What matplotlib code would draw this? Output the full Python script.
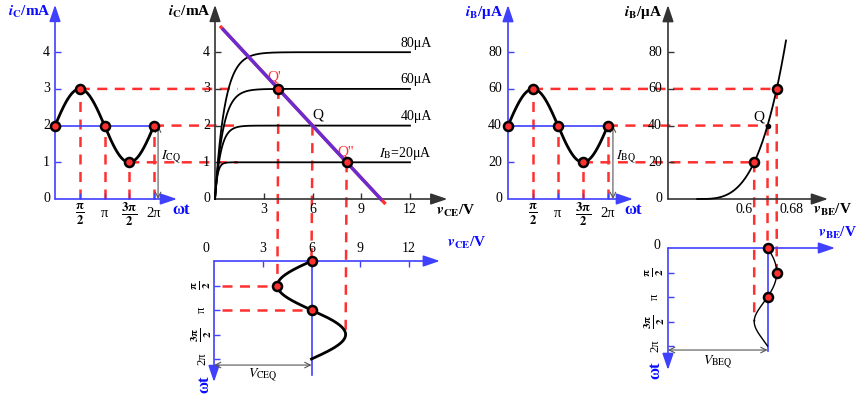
import numpy as np
import matplotlib
matplotlib.use('Agg')
import matplotlib.pyplot as plt
from matplotlib.patches import ConnectionPatch
from matplotlib import transforms

plt.rcParams['font.family'] = 'Liberation Serif'
plt.rcParams['mathtext.fontset'] = 'stix'

# ---- data ----
wt_keys = np.array([0, np.pi / 2, np.pi, 3 * np.pi / 2, 2 * np.pi])
wt_labels = [r'$\frac{\mathbf{\pi}}{\mathbf{2}}$', 'π', r'$\frac{\mathbf{3\pi}}{\mathbf{2}}$', '2π']
ic_ticks = [0, 1, 2, 3, 4]          # mA
ib_ticks = [0, 20, 40, 60, 80]      # uA
vce_ticks = [0, 3, 6, 9, 12]        # V
vbe_ticks = [0.6, 0.68]             # V

ICQ, ic_amp = 2.0, 1.0              # mA
IBQ, ib_amp = 40, 20                # uA
ib_levels = [20, 40, 60, 80]        # uA
ib_level_labels = [r'$I_{\rm B}$=20μA', '40μA', '60μA', '80μA']
knee = [0.15, 0.35, 0.5, 0.6]       # V, width of the saturation knee
beta = 0.05                         # mA per uA
VCC, RC = 10.2, 2.1                 # load line vCE = VCC - RC*iC
VBE_on, VBE_20, n_exp = 0.522, 0.617, 3.3   # input curve
VBE_top = 0.670
E_V0 = 0.4733                       # where the vBE axis starts

blue = '#4040ff'
lblue = '#0a0aff'
red = '#ff3030'
dark = '#333333'
purple = '#6a2bd0'

W, H = 865, 400
fig = plt.figure(figsize=(W / 100, H / 100), dpi=100)


def panel(ox, oy, sx, sy):
    # full-figure axes, data origin at pixel (ox, oy) from top-left
    ax = fig.add_axes([0, 0, 1, 1])
    ax.set_xlim(-ox / sx, (W - ox) / sx)
    ax.set_ylim((oy - H) / sy, oy / sy)
    ax.axis('off')
    ax.patch.set_visible(False)
    return ax


def axis_arrow(ax, p0, p1, color):
    ax.annotate('', xy=p1, xytext=p0,
                arrowprops=dict(arrowstyle='-|>,head_length=0.5,head_width=0.17',
                                mutation_scale=20, color=color, lw=1.2,
                                shrinkA=0, shrinkB=0))


def dim_arrow(ax, p0, p1):
    ax.annotate('', xy=p1, xytext=p0,
                arrowprops=dict(arrowstyle='<->,head_length=0.5,head_width=0.25',
                                mutation_scale=8, color='#555555', lw=0.8,
                                shrinkA=0, shrinkB=0))


def label(ax, xy, s, dx=0, dy=0, **kw):
    kw.setdefault('fontsize', 10)
    kw.setdefault('ha', 'center')
    kw.setdefault('va', 'center')
    ax.annotate(s, xy=xy, xytext=(dx, dy), textcoords='offset pixels', **kw)


def dots(ax, x, y):
    ax.plot(x, y, 'o', ms=6.5, mfc=red, mec='black', mew=1.8, ls='none', zorder=6)


def dashed(ax, x, y):
    ax.plot(x, y, color=red, lw=1.8, dashes=(4, 3), zorder=1)


links = []


def link(axa, pa, axb, pb):
    links.append((axa, pa, axb, pb))


t = np.linspace(0, 2 * np.pi, 300)
ic_wave = ICQ + ic_amp * np.sin(t)
ic_keys = ICQ + ic_amp * np.sin(wt_keys)
ib_wave = IBQ + ib_amp * np.sin(t)
ib_keys = IBQ + ib_amp * np.sin(wt_keys)
vce_wave = VCC - RC * ic_wave
vce_keys = VCC - RC * ic_keys
VCEQ = VCC - RC * ICQ


def vbe_of(ib):
    return VBE_on + (VBE_20 - VBE_on) * (np.asarray(ib) / 20.0) ** (1 / n_exp)


vbe_wave = vbe_of(ib_wave)
vbe_keys = vbe_of(ib_keys)
VBEQ = vbe_of(IBQ)

ylab_ic = r'$\mathbfit{i}_{\mathbf{C}}$/mA'
ylab_ib = r'$\mathbfit{i}_{\mathbf{B}}$/μA'
xlab_vce = r'$\mathbfit{v}_{\mathbf{CE}}$/V'
xlab_vbe = r'$\mathbfit{v}_{\mathbf{BE}}$/V'


def wt_fs(s):
    return 13 if 'frac' in s else 10.5


# ---- A: iC vs wt ----
axA = panel(55, 199, 15.76, 36.7)
axis_arrow(axA, (0, 0), (7.74, 0), blue)
axis_arrow(axA, (0, 0), (0, 5.29), blue)
axA.plot([0, 2 * np.pi], [ICQ, ICQ], color=blue, lw=1.2, zorder=2)
for k, v in zip(wt_keys[1:], ic_keys[1:]):
    dashed(axA, [k, k], [0, v])
axA.plot(t, ic_wave, color='black', lw=2, zorder=4)
dots(axA, wt_keys, ic_keys)
axA.plot(wt_keys[1:], np.zeros(4), ls='none', marker=2, ms=4, mew=1, color=blue)
axA.plot(np.zeros(4), ic_ticks[1:], ls='none', marker=1, ms=4, mew=1, color=blue)
for v in ic_ticks:
    label(axA, (0, v), str(v), dx=-5, ha='right')
for k, s in zip(wt_keys[1:], wt_labels):
    label(axA, (k, 0), s, dy=-15, fontsize=wt_fs(s))
label(axA, (7.74, 0), 'ωt', dx=4, dy=-11, color=lblue, fontweight='bold', fontsize=12)
label(axA, (0, 5.29), ylab_ic, dx=-4, dy=-7, ha='right', color=lblue,
      fontweight='bold', fontsize=11)
dim_arrow(axA, (6.54, ICQ), (6.54, 0))
label(axA, (6.54, 1.15), r'$I_{\rm CQ}$', dx=3, ha='left')

# ---- B: output characteristics ----
axB = panel(215, 199, 16.25, 36.7)
axis_arrow(axB, (0, 0), (14.3, 0), dark)
axis_arrow(axB, (0, 0), (0, 5.29), dark)
vv = np.linspace(0, 12, 500)
for lev, kn, s in zip(ib_levels, knee, ib_level_labels):
    axB.plot(vv, beta * lev * (1 - np.exp(-vv / kn)), color='black', lw=1.3, zorder=3)
    label(axB, (12, beta * lev), s, dx=22, dy=9, ha='right')
vl = np.array([0.3, 10.35])
shift = transforms.offset_copy(axB.transData, fig=fig, x=1.2, y=-1.2, units='dots')
axB.plot(vl, (VCC - vl) / RC, color=red, lw=2.4, transform=shift, zorder=4)
vl2 = np.array([0.5, VCC])
axB.plot(vl2, (VCC - vl2) / RC, color=purple, lw=2.4, zorder=5)
dots(axB, vce_keys[[1, 3]], ic_keys[[1, 3]])
label(axB, (vce_keys[1], ic_keys[1]), "Q'", dx=-4, dy=12, color=red, fontsize=11)
label(axB, (VCEQ, ICQ), 'Q', dx=5, dy=11, fontsize=11)
label(axB, (vce_keys[3], ic_keys[3]), "Q''", dx=-1, dy=10, color=red, fontsize=11)
axB.plot(vce_ticks[1:], np.zeros(4), ls='none', marker=2, ms=4, mew=1, color=dark)
axB.plot(np.zeros(4), ic_ticks[1:], ls='none', marker=1, ms=4, mew=1, color=dark)
for v in ic_ticks:
    label(axB, (0, v), str(v), dx=-5, ha='right')
for v in vce_ticks[1:]:
    label(axB, (v, 0), str(v), dy=-11)
label(axB, (0, 5.29), ylab_ic, dx=-4, dy=-7, ha='right', color='black',
      fontweight='bold', fontsize=11)
label(axB, (14.3, 0), xlab_vce, dx=-11, dy=-12, ha='left', fontweight='bold', fontsize=11)

# ---- C: vCE vs wt ----
axC = panel(214, 261, 16.25, -15.6)
axis_arrow(axC, (0, 0), (13.9, 0), blue)
axis_arrow(axC, (0, 0), (0, 7.76), blue)
axC.plot([VCEQ, VCEQ], [0, 7.3], color=blue, lw=1.2, zorder=2)
dashed(axC, [0.5, vce_keys[1]], [wt_keys[1]] * 2)
dashed(axC, [0.5, vce_keys[2]], [wt_keys[2]] * 2)
axC.plot(vce_wave, t, color='black', lw=2, zorder=4)
dots(axC, vce_keys[:3], wt_keys[:3])
axC.plot(vce_ticks[1:], np.zeros(4), ls='none', marker=3, ms=4, mew=1, color=blue)
axC.plot(np.zeros(4), wt_keys[1:], ls='none', marker=1, ms=4, mew=1, color=blue)
for v in vce_ticks:
    label(axC, (v, 0), str(v), dx=-8 if v == 0 else 0, dy=12)
for k, s in zip(wt_keys[1:], wt_labels):
    label(axC, (0, k), s, dx=-12, rotation=90, fontsize=wt_fs(s) - 1.5)
label(axC, (0, 7.76), 'ωt', dx=-10, dy=-2, rotation=90, color=lblue,
      fontweight='bold', fontsize=12)
label(axC, (13.9, 0), xlab_vce, dx=7, dy=18, ha='left', color=lblue,
      fontweight='bold', fontsize=11)
dim_arrow(axC, (0, 6.67), (VCEQ, 6.67))
label(axC, (VCEQ / 2, 7.3), r'$V_{\rm CEQ}$')

# ---- D: iB vs wt ----
axD = panel(508, 199, 15.9, 1.835)
axis_arrow(axD, (0, 0), (7.86, 0), blue)
axis_arrow(axD, (0, 0), (0, 105.7), blue)
axD.plot([0, 2 * np.pi], [IBQ, IBQ], color=blue, lw=1.2, zorder=2)
for k, v in zip(wt_keys[1:], ib_keys[1:]):
    dashed(axD, [k, k], [0, v])
axD.plot(t, ib_wave, color='black', lw=2, zorder=4)
dots(axD, wt_keys, ib_keys)
axD.plot(wt_keys[1:], np.zeros(4), ls='none', marker=2, ms=4, mew=1, color=blue)
axD.plot(np.zeros(4), ib_ticks[1:], ls='none', marker=1, ms=4, mew=1, color=blue)
for v in ib_ticks:
    label(axD, (0, v), str(v), dx=-6, ha='right')
for k, s in zip(wt_keys[1:], wt_labels):
    label(axD, (k, 0), s, dy=-15, fontsize=wt_fs(s))
label(axD, (7.86, 0), 'ωt', dx=0, dy=-11, color=lblue, fontweight='bold', fontsize=12)
label(axD, (0, 105.7), ylab_ib, dx=-5, dy=-7, ha='right', color=lblue,
      fontweight='bold', fontsize=11)
dim_arrow(axD, (6.6, IBQ), (6.6, 0))
label(axD, (6.6, 22.9), r'$I_{\rm BQ}$', dx=3, ha='left')

# ---- E: input characteristic ----
axE = panel(384, 199, 600, 1.835)
axis_arrow(axE, (E_V0, 0), (0.74, 0), dark)
axis_arrow(axE, (E_V0, 0), (E_V0, 105.7), dark)
vb = np.linspace(VBE_on, VBE_top, 200)
axE.plot(vb, 20 * ((vb - VBE_on) / (VBE_20 - VBE_on)) ** n_exp, color='black', lw=1.3, zorder=3)
dots(axE, [vbe_keys[3], vbe_keys[1]], [ib_keys[3], ib_keys[1]])
axE.plot([VBEQ], [IBQ], 'o', color='black', ms=3, zorder=6)
label(axE, (VBEQ, IBQ), 'Q', dx=-9, dy=9, fontsize=11)
axE.plot([E_V0] * 4, ib_ticks[1:], ls='none', marker=1, ms=4, mew=1, color=dark)
for v in ib_ticks:
    label(axE, (E_V0, v), str(v), dx=-6, ha='right')
for v in vbe_ticks:
    label(axE, (v, 0), f'{v:g}', dy=-11)
label(axE, (E_V0, 105.7), ylab_ib, dx=-6, dy=-7, ha='right', color='black',
      fontweight='bold', fontsize=11)
label(axE, (0.74, 0), xlab_vbe, dx=-15, dy=-11, ha='left', fontweight='bold', fontsize=11)

# ---- F: vBE vs wt ----
axF = panel(384, 248, 600, -15.6)
axis_arrow(axF, (E_V0, 0), (0.7517, 0), blue)
axis_arrow(axF, (E_V0, 0), (E_V0, 7.82), blue)
axF.plot([VBEQ, VBEQ], [0, 6.6], color=blue, lw=1.2, zorder=2)
axF.plot(vbe_wave, t, color='black', lw=1.0, zorder=4)
dots(axF, vbe_keys[:3], wt_keys[:3])
axF.plot([E_V0] * 4, wt_keys[1:], ls='none', marker=1, ms=4, mew=1, color=blue)
label(axF, (E_V0, 0), '0', dx=-11, dy=2)
for k, s in zip(wt_keys[1:], wt_labels):
    label(axF, (E_V0, k), s, dx=-13, rotation=90, fontsize=wt_fs(s) - 1.5)
label(axF, (E_V0, 7.82), 'ωt', dx=-13, dy=0, rotation=90, color=lblue,
      fontweight='bold', fontsize=12)
label(axF, (0.7517, 0), xlab_vbe, dx=-17, dy=15, ha='left', color=lblue,
      fontweight='bold', fontsize=11)
dim_arrow(axF, (E_V0, 6.54), (VBEQ, 6.54))
label(axF, ((E_V0 + VBEQ) / 2, 7.3), r'$V_{\rm BEQ}$')

# ---- red dashed projections between panels ----
link(axA, (wt_keys[1], ic_keys[1]), axB, (1.4, ic_keys[1]))
link(axA, (wt_keys[4], ic_keys[4]), axB, (1.4, ic_keys[4]))
link(axA, (wt_keys[3], ic_keys[3]), axB, (1.4, ic_keys[3]))
link(axB, (vce_keys[1], ic_keys[1]), axC, (vce_keys[1], wt_keys[1]))
link(axB, (VCEQ, ICQ), axC, (VCEQ, 0))
link(axB, (vce_keys[3], ic_keys[3]), axC, (vce_keys[3], wt_keys[3]))
link(axD, (wt_keys[1], ib_keys[1]), axE, (vbe_keys[1], ib_keys[1]))
link(axD, (wt_keys[4], ib_keys[4]), axE, (VBEQ, IBQ))
link(axD, (wt_keys[3], ib_keys[3]), axE, (vbe_keys[3], ib_keys[3]))
link(axE, (vbe_keys[3], ib_keys[3]), axF, (vbe_keys[3], wt_keys[3]))
link(axE, (VBEQ, IBQ), axF, (VBEQ, 0))
link(axE, (vbe_keys[1], ib_keys[1]), axF, (vbe_keys[1], wt_keys[1]))

for axa, pa, axb, pb in links:
    con = ConnectionPatch(xyA=pa, coordsA=axa.transData, xyB=pb, coordsB=axb.transData,
                          color=red, lw=1.8, linestyle=(0, (4, 3)), capstyle='butt', zorder=1)
    axA.add_artist(con)

fig.savefig('out.png', dpi=100)
